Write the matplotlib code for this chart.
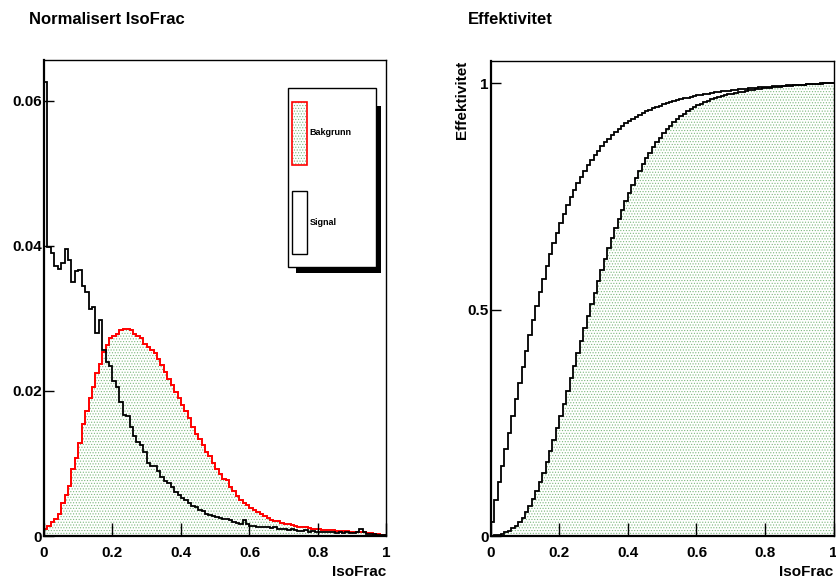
import numpy as np
import matplotlib
matplotlib.use("Agg")
import matplotlib.pyplot as plt
from matplotlib.patches import Rectangle

plt.rcParams['font.family'] = ['Liberation Sans', 'DejaVu Sans']
plt.rcParams['font.weight'] = 'bold'
plt.rcParams['hatch.linewidth'] = 0.5

# ---------------- data ----------------
bin_edges = np.linspace(0.0, 1.0, 101)

signal = [
    0.0625, 0.0398, 0.0390, 0.0372, 0.0368, 0.0376, 0.0395, 0.0380, 0.0350, 0.0365,
    0.0366, 0.0345, 0.0336, 0.0313, 0.0315, 0.0280, 0.0297, 0.0257, 0.0240, 0.0234,
    0.0213, 0.0205, 0.0185, 0.0167, 0.0165, 0.0150, 0.0138, 0.0130, 0.0125, 0.0116,
    0.0100, 0.0097, 0.0096, 0.0089, 0.0082, 0.0076, 0.0073, 0.0068, 0.0060, 0.0057,
    0.0053, 0.0050, 0.0046, 0.0042, 0.0040, 0.0036, 0.0034, 0.0031, 0.0029, 0.0028,
    0.0026, 0.0025, 0.0024, 0.0023, 0.0022, 0.0019, 0.0018, 0.0017, 0.0022, 0.0016,
    0.0014, 0.0014, 0.0013, 0.0013, 0.0012, 0.0012, 0.0011, 0.0013, 0.0010, 0.0010,
    0.0009, 0.0008, 0.0009, 0.0008, 0.0007, 0.0007, 0.0008, 0.0006, 0.0007, 0.0006,
    0.0006, 0.0005, 0.0006, 0.0005, 0.0005, 0.0004, 0.0005, 0.0004, 0.0005, 0.0004,
    0.0004, 0.0005, 0.0009, 0.0005, 0.0003, 0.0003, 0.0003, 0.0002, 0.0002, 0.0002,
]

background = [
    0.0010, 0.0014, 0.0019, 0.0024, 0.0031, 0.0045, 0.0057, 0.0069, 0.0092, 0.0107,
    0.0128, 0.0155, 0.0172, 0.0190, 0.0206, 0.0225, 0.0237, 0.0253, 0.0263, 0.0273,
    0.0276, 0.0279, 0.0284, 0.0285, 0.0285, 0.0284, 0.0278, 0.0275, 0.0273, 0.0265,
    0.0260, 0.0256, 0.0252, 0.0244, 0.0236, 0.0226, 0.0217, 0.0208, 0.0199, 0.0190,
    0.0181, 0.0172, 0.0163, 0.0150, 0.0140, 0.0134, 0.0126, 0.0116, 0.0110, 0.0100,
    0.0092, 0.0086, 0.0079, 0.0077, 0.0068, 0.0062, 0.0055, 0.0050, 0.0046, 0.0043,
    0.0039, 0.0036, 0.0033, 0.0031, 0.0028, 0.0025, 0.0022, 0.0021, 0.0020, 0.0018,
    0.0017, 0.0016, 0.0015, 0.0014, 0.0013, 0.0013, 0.0012, 0.0011, 0.0010, 0.0009,
    0.0009, 0.0008, 0.0008, 0.0008, 0.0008, 0.0007, 0.0007, 0.0007, 0.0007, 0.0006,
    0.0006, 0.0006, 0.0005, 0.0005, 0.0004, 0.0004, 0.0003, 0.0003, 0.0002, 0.0002,
]

x_ticks = [0, 0.2, 0.4, 0.6, 0.8, 1]
x_tick_labels = ["0", "0.2", "0.4", "0.6", "0.8", "1"]
left_y_ticks = [0, 0.02, 0.04, 0.06]
left_y_labels = ["0", "0.02", "0.04", "0.06"]
right_y_ticks = [0, 0.5, 1]
right_y_labels = ["0", "0.5", "1"]
legend_labels = ["Bakgrunn", "Signal"]

# efficiency (cumulative fraction, evaluated at bin centres)
sig = np.array(signal)
bkg = np.array(background)
eff_sig = (np.cumsum(sig) - 0.5 * sig) / sig.sum()
eff_bkg = (np.cumsum(bkg) - 0.5 * bkg) / bkg.sum()

# ---------------- style ----------------
FILL_EDGE = '#7db87d'
HATCH = '......'

W, H = 837, 585
fig = plt.figure(figsize=(W / 100, H / 100), dpi=100)

def px_axes(x0, x1, ytop, ybot):
    return fig.add_axes([x0 / W, (H - ybot) / H, (x1 - x0) / W, (ybot - ytop) / H])

ax1 = px_axes(44, 386.5, 60, 536)
ax2 = px_axes(490.7, 833.7, 60.5, 536)

def style_axes(ax, yticks, ylabels, ymax):
    ax.set_xlim(0, 1)
    ax.set_ylim(0, ymax)
    ax.set_xticks(x_ticks)
    ax.set_xticklabels(x_tick_labels)
    ax.set_yticks(yticks)
    ax.set_yticklabels(ylabels)
    ax.tick_params(axis='x', direction='in', length=9.5, width=1.0, pad=7,
                   labelsize=11, top=False)
    ax.tick_params(axis='y', direction='in', length=7, width=1.0, pad=1.5,
                   labelsize=11, right=False)
    for lab in ax.get_xticklabels() + ax.get_yticklabels():
        lab.set_fontweight('bold')
    ax.spines['left'].set_linewidth(1.6)
    ax.spines['bottom'].set_linewidth(1.6)
    ax.spines['top'].set_linewidth(1.0)
    ax.spines['right'].set_linewidth(1.0)

# ---------------- left panel ----------------
ax1.stairs(background, bin_edges, fill=True, facecolor='white',
           edgecolor=FILL_EDGE, hatch=HATCH, linewidth=0)
ax1.stairs(background, bin_edges, color='#ff0000', linewidth=1.4)
ax1.stairs(signal, bin_edges, color='black', linewidth=1.3)
style_axes(ax1, left_y_ticks, left_y_labels, 0.0656)
ax1.set_title('Normalisert IsoFrac', loc='left', x=(29.3 - 44) / 342.5,
              y=(536 - 20) / 476, pad=0, va='center', fontsize=12, fontweight='bold')
ax1.set_xlabel('IsoFrac', loc='right', fontsize=11, fontweight='bold', va='center')
ax1.xaxis.set_label_coords(1.0, (536 - 572) / 476)

# legend (ROOT style box with shadow)
def ax_rect(ax, x0, x1, ytop, ybot, axx0, axw, axybot, axh, **kw):
    r = Rectangle(((x0 - axx0) / axw, (axybot - ybot) / axh),
                  (x1 - x0) / axw, (ybot - ytop) / axh,
                  transform=ax.transAxes, clip_on=False, **kw)
    ax.add_patch(r)
    return r

L = dict(axx0=44, axw=342.5, axybot=536, axh=476)
ax_rect(ax1, 375.7, 380.9, 106, 272.8, **L, facecolor='black', edgecolor='none', zorder=5)
ax_rect(ax1, 296.5, 380.9, 266.7, 272.8, **L, facecolor='black', edgecolor='none', zorder=5)
ax_rect(ax1, 288.3, 375.7, 88.3, 266.7, **L, facecolor='white', edgecolor='black',
        linewidth=1.0, zorder=6)
ax_rect(ax1, 292.3, 307.3, 101.7, 165, **L, facecolor='white', edgecolor=FILL_EDGE,
        hatch=HATCH, linewidth=0, zorder=7)
ax_rect(ax1, 292.3, 307.3, 101.7, 165, **L, facecolor='none', edgecolor='#ff0000',
        linewidth=1.2, zorder=8)
ax_rect(ax1, 292.3, 307.3, 191, 254, **L, facecolor='white', edgecolor='black',
        linewidth=1.0, zorder=7)
ax1.text((309.3 - 44) / 342.5, (536 - 132.7) / 476, legend_labels[0],
         transform=ax1.transAxes, fontsize=6.5, fontweight='bold', va='center',
         ha='left', zorder=9)
ax1.text((309.3 - 44) / 342.5, (536 - 222.7) / 476, legend_labels[1],
         transform=ax1.transAxes, fontsize=6.5, fontweight='bold', va='center',
         ha='left', zorder=9)

# ---------------- right panel ----------------
ax2.stairs(eff_bkg, bin_edges, fill=True, facecolor='white',
           edgecolor=FILL_EDGE, hatch=HATCH, linewidth=0)
ax2.stairs(eff_bkg, bin_edges, color='black', linewidth=1.3, baseline=None)
ax2.stairs(eff_sig, bin_edges, color='black', linewidth=1.3, baseline=None)
style_axes(ax2, right_y_ticks, right_y_labels, 1.05)
ax2.set_title('Effektivitet', loc='left', x=(468 - 490.7) / 343,
              y=(536 - 20) / 475.5, pad=0, va='center', fontsize=12, fontweight='bold')
ax2.set_xlabel('IsoFrac', loc='right', fontsize=11, fontweight='bold', va='center')
ax2.xaxis.set_label_coords(1.0, (536 - 572) / 475.5)
ax2.set_ylabel('Effektivitet', loc='top', fontsize=11, fontweight='bold', va='center')
ax2.yaxis.set_label_coords((462.5 - 490.7) / 343, 1.0)

fig.savefig('out.png', dpi=100)
